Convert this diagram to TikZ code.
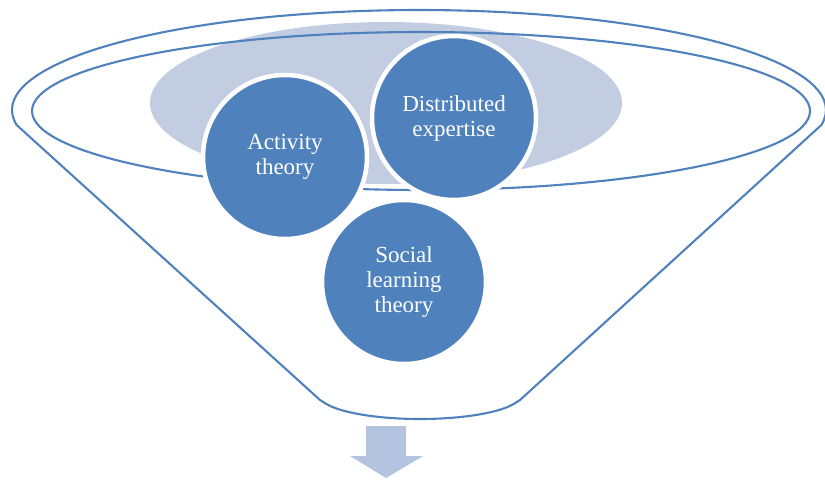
\documentclass[tikz,border=0pt]{standalone}
\usepackage{fontspec}
\setmainfont{Liberation Serif}
\definecolor{fblue}{HTML}{4F81BD}
\definecolor{fgray}{HTML}{C3CDE2}
\definecolor{farrow}{HTML}{B3C3E0}
\begin{document}
\begin{tikzpicture}[x=1pt,y=1pt,
  funnelline/.style={draw=fblue,line width=2.1pt,line join=round},
  idea/.style={circle,fill=fblue,draw=white,line width=4.5pt,minimum size=164pt,inner sep=0pt,
    text=white,align=center,font=\fontsize{23}{25}\selectfont}]
\useasboundingbox (0,0) rectangle (825,-480);
% shaded back ellipse
\fill[fgray] (386,-103) ellipse[x radius=236,y radius=81];
% funnel outline
\coordinate (lc) at ([shift={(419,-110)}]188.6:407 and 100);
\coordinate (bl) at (320,-400);
\coordinate (br) at (520,-400);
\coordinate (rc) at ([shift={(419,-110)}]-8.6:407 and 100);
\draw[funnelline] (lc) arc[start angle=188.6,end angle=-8.6,x radius=407,y radius=100]
  -- (br) -- ([shift={(420,-395)}]340:101 and 24)
  arc[start angle=340,end angle=200,x radius=101,y radius=24] -- (bl) -- cycle;
% inner rim ellipse
\draw[funnelline] (421,-111) ellipse[x radius=389,y radius=79];
% circles
\node[idea] (act) at (285,-157) {Activity\\theory};
\node[idea] (dist) at (454,-118) {Distributed\\expertise};
\node[idea] (soc) at (404,-282) {Social\\learning\\theory};
% down arrow
\fill[farrow] (366,-426) -- (406,-426) -- (406,-456) -- (423,-456) -- (386,-478)
  -- (350,-456) -- (366,-456) -- cycle;
\end{tikzpicture}
\end{document}
